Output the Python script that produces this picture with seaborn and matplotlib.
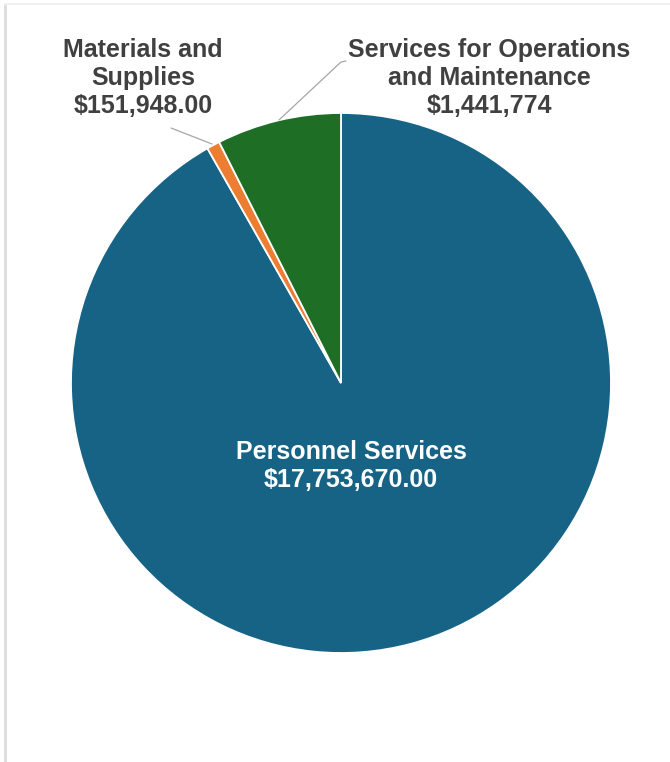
import matplotlib
matplotlib.use('Agg')
import matplotlib.pyplot as plt
import seaborn as sns
from matplotlib.lines import Line2D

# dados do gráfico
categorias = ['Personnel Services', 'Materials and\nSupplies',
              'Services for Operations\nand Maintenance']
valores = [17753670.00, 151948.00, 1441774]
rotulos_valor = ['$17,753,670.00', '$151,948.00', '$1,441,774']
cores = ['#166386', '#ED7D31', '#1E6E26']

sns.set_theme(style='white')
plt.rcParams['font.family'] = ['Liberation Sans', 'DejaVu Sans']

W, H = 670, 762
fig = plt.figure(figsize=(W / 100, H / 100), dpi=100)
fig.patch.set_facecolor('white')

# centro do pie (341, 383) px, raio 270 px
cx, cy, r = 341, 383, 270
ax = fig.add_axes([(cx - r) / W, (H - cy - r) / H, 2 * r / W, 2 * r / H])

ax.pie(valores, colors=cores, startangle=90, counterclock=False, radius=1,
       wedgeprops=dict(edgecolor='white', linewidth=1.3))
ax.set_xlim(-1, 1)
ax.set_ylim(-1, 1)
ax.set_aspect('equal')
ax.axis('off')


def px(x, y):
    return ((x - cx) / r, (cy - y) / r)


cor_texto = '#404040'
fs = 18

# rótulo principal dentro da fatia
ax.text(*px(351, 466), categorias[0] + '\n' + rotulos_valor[0], ha='center', va='center',
        color='white', fontsize=fs, fontweight='bold', linespacing=1.2)

# rótulos externos
ax.text(*px(143, 78), categorias[1] + '\n' + rotulos_valor[1], ha='center', va='center',
        color=cor_texto, fontsize=fs, fontweight='bold', linespacing=1.2, clip_on=False)
ax.text(*px(489, 78), categorias[2] + '\n' + rotulos_valor[2], ha='center', va='center',
        color=cor_texto, fontsize=fs, fontweight='bold', linespacing=1.2, clip_on=False)

# linhas de chamada
for pts in [[(171, 128), (212, 144)], [(346, 61), (341, 62), (279, 120)]]:
    xs, ys = zip(*[px(*p) for p in pts])
    ax.plot(xs, ys, color='#A6A6A6', lw=0.9, clip_on=False)

# borda sutil do cartão
fig.add_artist(Line2D([5 / W, 5 / W], [0, 1 - 4 / H], transform=fig.transFigure,
                      color='#DDDDDD', lw=2))
fig.add_artist(Line2D([5 / W, 1], [1 - 4 / H, 1 - 4 / H], transform=fig.transFigure,
                      color='#F0F0F0', lw=1.5))

fig.savefig('out.png', dpi=100, facecolor='white')
